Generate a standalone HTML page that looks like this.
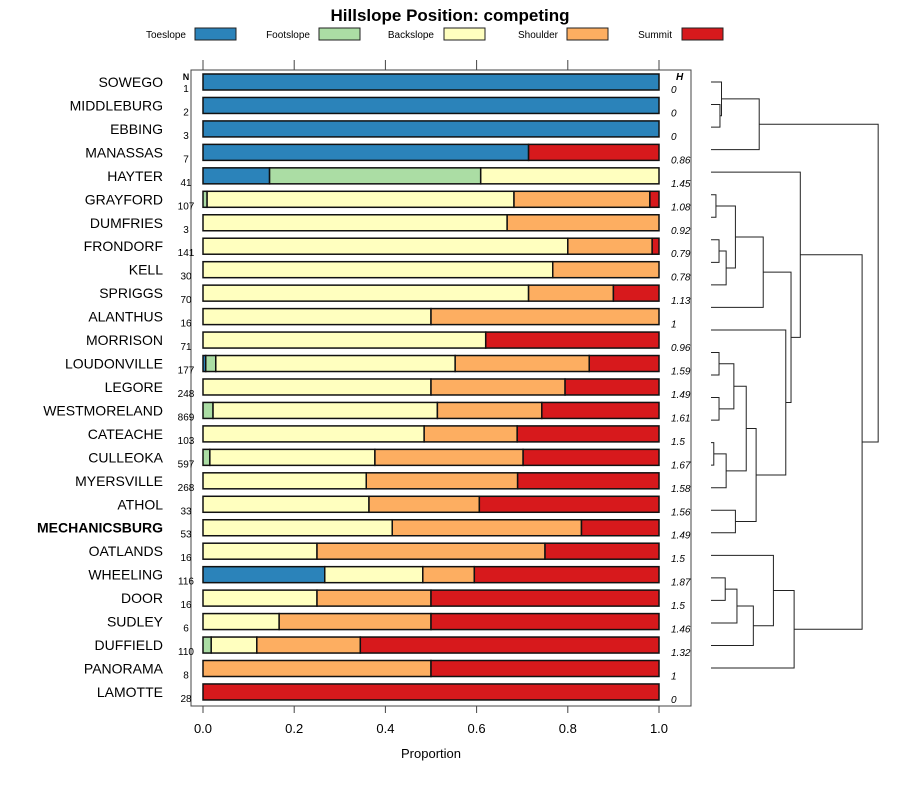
<!DOCTYPE html>
<html><head><meta charset="utf-8"><style>
body{margin:0;background:#fff;}
svg{font-family:"Liberation Sans",sans-serif;}
</style></head><body>
<svg id="c" width="900" height="780" xmlns="http://www.w3.org/2000/svg"></svg>
<script>
const names=["SOWEGO","MIDDLEBURG","EBBING","MANASSAS","HAYTER","GRAYFORD","DUMFRIES","FRONDORF","KELL","SPRIGGS","ALANTHUS","MORRISON","LOUDONVILLE","LEGORE","WESTMORELAND","CATEACHE","CULLEOKA","MYERSVILLE","ATHOL","MECHANICSBURG","OATLANDS","WHEELING","DOOR","SUDLEY","DUFFIELD","PANORAMA","LAMOTTE"];
const nVals=[1,2,3,7,41,107,3,141,30,70,16,71,177,248,869,103,597,268,33,53,16,116,16,6,110,8,28];
const hVals=["0","0","0","0.86","1.45","1.08","0.92","0.79","0.78","1.13","1","0.96","1.59","1.49","1.61","1.5","1.67","1.58","1.56","1.49","1.5","1.87","1.5","1.46","1.32","1","0"];
const toeslope=[1,1,1,0.714,0.146,0,0,0,0,0,0,0,0.006,0,0,0,0,0,0,0,0,0.267,0,0,0,0,0];
const footslope=[0,0,0,0,0.463,0.009,0,0,0,0,0,0,0.022,0,0.022,0,0.015,0,0,0,0,0,0,0,0.018,0,0];
const backslope=[0,0,0,0,0.391,0.673,0.667,0.8,0.767,0.714,0.5,0.62,0.525,0.5,0.492,0.485,0.362,0.358,0.364,0.415,0.25,0.215,0.25,0.167,0.1,0,0];
const shoulder=[0,0,0,0,0,0.298,0.333,0.185,0.233,0.186,0.5,0,0.294,0.294,0.229,0.204,0.325,0.332,0.242,0.415,0.5,0.113,0.25,0.333,0.227,0.5,0];
const summit=[0,0,0,0.286,0,0.02,0,0.015,0,0.1,0,0.38,0.153,0.206,0.257,0.311,0.298,0.31,0.394,0.17,0.25,0.405,0.5,0.5,0.655,0.5,1];
const seriesNames=["Toeslope","Footslope","Backslope","Shoulder","Summit"];
const colors=["#2b83ba","#abdda4","#ffffbf","#fdae61","#d7191c"];
const xTicks=[0,0.2,0.4,0.6,0.8,1.0];
const xTickLabels=["0.0","0.2","0.4","0.6","0.8","1.0"];
const series=[toeslope,footslope,backslope,shoulder,summit];
// dendrogram: [left, right, height]; nodes referenced as "L<i>" leaves or "N<i>" internal
const merges=[
 ["L1","L2",95],["L0","N0",100],["N1","L3",222],
 ["L5","L6",82],["L7","L8",92],["N4","L9",115],["N3","N5",145],["N6","L10",235],
 ["L12","L13",92],["L14","L15",92],["N8","N9",140],["L16","L17",75],["N11","L18",115],["N10","N12",180],["L19","L20",145],["N13","N14",212],["L11","N15",308],
 ["N7","N16",325],["L4","N17",355],
 ["L22","L23",112],["N19","L24",150],["N20","L25",203],["L21","N21",268],["N22","L26",335],
 ["N18","N23",555],["N2","N24",607]
];
const svg=document.getElementById('c');
const NS="http://www.w3.org/2000/svg";
function el(t,a,txt){const e=document.createElementNS(NS,t);for(const k in a)e.setAttribute(k,a[k]);if(txt!==undefined)e.textContent=txt;svg.appendChild(e);return e;}
const x0=203,x1=659;
const X=v=>x0+(x1-x0)*v;
const Y=i=>82+i*23.46;
let e;
e=el('text',{x:450,y:21,'text-anchor':'middle','font-size':17,'font-weight':'bold'},"Hillslope Position: competing");

const legTextEnd=[186,310,434,558,672],legBox=[195,319,444,567,682];
seriesNames.forEach((s,i)=>{
 e=el('text',{x:legTextEnd[i],y:38,'text-anchor':'end','font-size':10},s);
 
 e=el('rect',{x:legBox[i],y:28,width:41,height:12,fill:colors[i],stroke:'#222','stroke-width':1});
 
});
e=el('rect',{x:191,y:70,width:500,height:636,fill:'none',stroke:'#444','stroke-width':1});

xTicks.forEach((t,i)=>{
 e=el('line',{x1:X(t),x2:X(t),y1:60,y2:70,stroke:'#444'});
 
 e=el('line',{x1:X(t),x2:X(t),y1:706,y2:713,stroke:'#444'});
 
 e=el('text',{x:X(t),y:733,'text-anchor':'middle','font-size':13},xTickLabels[i]);
 
});
e=el('text',{x:431,y:758,'text-anchor':'middle','font-size':13},"Proportion");

e=el('text',{x:186,y:80,'text-anchor':'middle','font-size':9,'font-weight':'bold'},"N");

e=el('text',{x:676,y:80,'font-size':10,'font-weight':'bold','font-style':'italic'},"H");

names.forEach((n,i)=>{
 const y=Y(i);
 e=el('text',{x:163,y:y+5,'text-anchor':'end','font-size':14,'font-weight':n==="MECHANICSBURG"?'bold':'normal'},n);
 
 e=el('text',{x:186,y:y+10,'text-anchor':'middle','font-size':10},String(nVals[i]));
 
 e=el('text',{x:671,y:y+11,'font-size':10,'font-style':'italic'},hVals[i]);
 
 let cum=0;
 series.forEach((s,k)=>{
  const v=s[i];if(v<=0)return;
  e=el('rect',{x:X(cum),y:y-8,width:X(cum+v)-X(cum),height:16,fill:colors[k],stroke:'#111','stroke-width':1.5});
  
  cum+=v;
 });
});
// dendrogram
const dx=h=>711+(h-66)*0.309;
const dy=i=>82+i*22.54;
const pos={};
for(let i=0;i<27;i++)pos["L"+i]={y:dy(i),h:66};
merges.forEach((m,k)=>{
 const a=pos[m[0]],b=pos[m[1]],hx=dx(m[2]);
 e=el('path',{d:`M${dx(a.h)},${a.y}H${hx}V${b.y}H${dx(b.h)}`,fill:'none',stroke:'#222','stroke-width':1});
 
 pos["N"+k]={y:(a.y+b.y)/2,h:m[2]};
});
</script>
</body></html>
